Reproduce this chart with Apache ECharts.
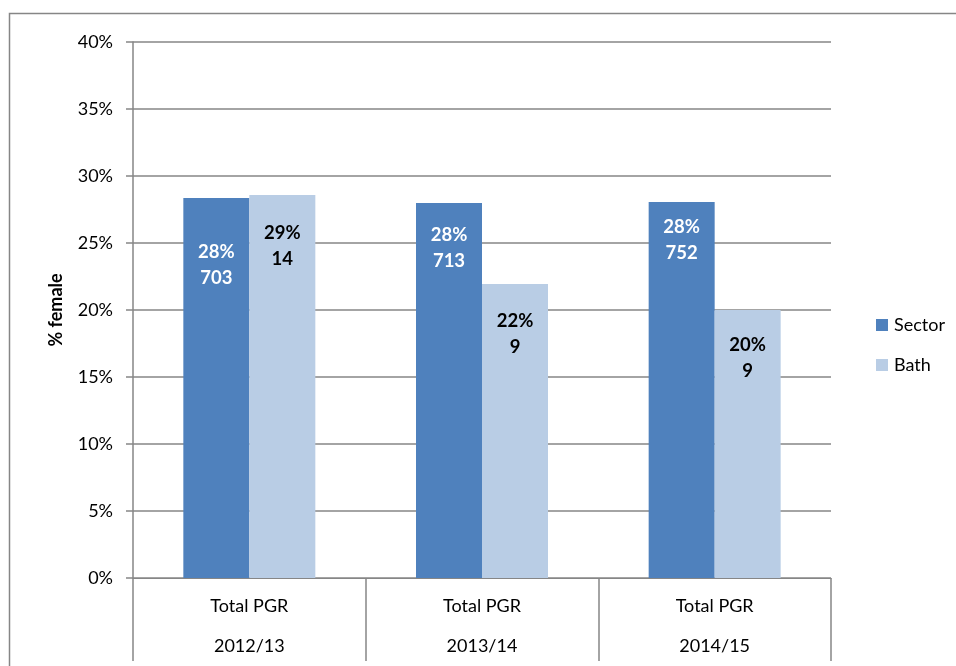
<!DOCTYPE html>
<html>
<head>
<meta charset="utf-8">
<script src="https://cdn.jsdelivr.net/npm/echarts@6/dist/echarts.min.js"></script>
<style>
  html, body { margin: 0; padding: 0; background: #ffffff; }
  #chart { width: 956px; height: 666px; }
</style>
</head>
<body>
<div id="chart"></div>
<script>
// Share of postgraduate research students who are female
const years = ['2012/13', '2013/14', '2014/15'];
const groupLabel = 'Total PGR';
const sectorPct = [28.36, 27.99, 28.06];
const bathPct = [28.58, 21.94, 20.0];
const sectorCount = [703, 713, 752];
const bathCount = [14, 9, 9];
const yTicks = [0, 5, 10, 15, 20, 25, 30, 35, 40];

// vertical placement of each value label below its bar top (px)
const sectorLabelGap = [41, 19, 12];
const bathLabelGap = [25, 24, 22];

const FONT = 'Lato';
const GREY = '#868686';

function items(values, counts, gaps, color) {
  return values.map((v, i) => ({
    value: v,
    label: {
      show: true,
      position: 'insideTop',
      distance: gaps[i],
      formatter: Math.round(v) + '%\n' + counts[i],
      color: color,
      fontFamily: FONT,
      fontWeight: 'bold',
      fontSize: 18.5,
      lineHeight: 26,
      align: 'center'
    }
  }));
}

const chart = echarts.init(document.getElementById('chart'));
chart.setOption({
  animation: false,
  backgroundColor: '#ffffff',
  textStyle: { fontFamily: FONT },
  graphic: [{
    type: 'rect',
    shape: { x: 9.5, y: 13.5, width: 1000, height: 700 },
    style: { fill: 'none', stroke: GREY, lineWidth: 1.5 },
    silent: true,
    z: -10
  }],
  grid: { left: 133, right: 125, top: 42, bottom: 88, containLabel: false },
  legend: {
    orient: 'vertical',
    left: 871,
    top: 311,
    itemWidth: 12,
    itemHeight: 12,
    itemGap: 22,
    icon: 'rect',
    textStyle: { fontFamily: FONT, fontSize: 18, color: '#000000', padding: [0, 0, 0, 1] },
    data: ['Sector', 'Bath']
  },
  xAxis: {
    type: 'category',
    data: years,
    boundaryGap: true,
    axisLine: { show: true, lineStyle: { color: GREY, width: 1 } },
    axisTick: { show: true, interval: 0, length: 83, lineStyle: { color: GREY, width: 1.5 } },
    axisLabel: {
      interval: 0,
      margin: 8,
      fontFamily: FONT,
      fontSize: 18,
      color: '#000000',
      lineHeight: 40,
      formatter: (y) => groupLabel + '\n' + y
    },
    splitLine: { show: false }
  },
  yAxis: {
    type: 'value',
    min: 0,
    max: 40,
    interval: 5,
    name: '% female',
    nameLocation: 'middle',
    nameGap: 68,
    nameTextStyle: { fontFamily: FONT, fontSize: 18, fontWeight: 'bold', color: '#000000' },
    axisLine: { show: true, lineStyle: { color: GREY, width: 1.5 } },
    axisTick: { show: true, length: 7, lineStyle: { color: GREY, width: 1.5 } },
    axisLabel: {
      margin: 20,
      fontFamily: FONT,
      fontSize: 18,
      color: '#000000',
      formatter: (v) => (yTicks.indexOf(v) >= 0 ? v + '%' : '')
    },
    splitLine: { show: true, lineStyle: { color: GREY, width: 1.5 } }
  },
  series: [
    {
      name: 'Sector',
      type: 'bar',
      barWidth: 66,
      barGap: '0%',
      itemStyle: { color: '#4F81BD' },
      data: items(sectorPct, sectorCount, sectorLabelGap, '#ffffff')
    },
    {
      name: 'Bath',
      type: 'bar',
      barWidth: 66,
      itemStyle: { color: '#B9CDE5' },
      data: items(bathPct, bathCount, bathLabelGap, '#000000')
    }
  ]
});
</script>
</body>
</html>
